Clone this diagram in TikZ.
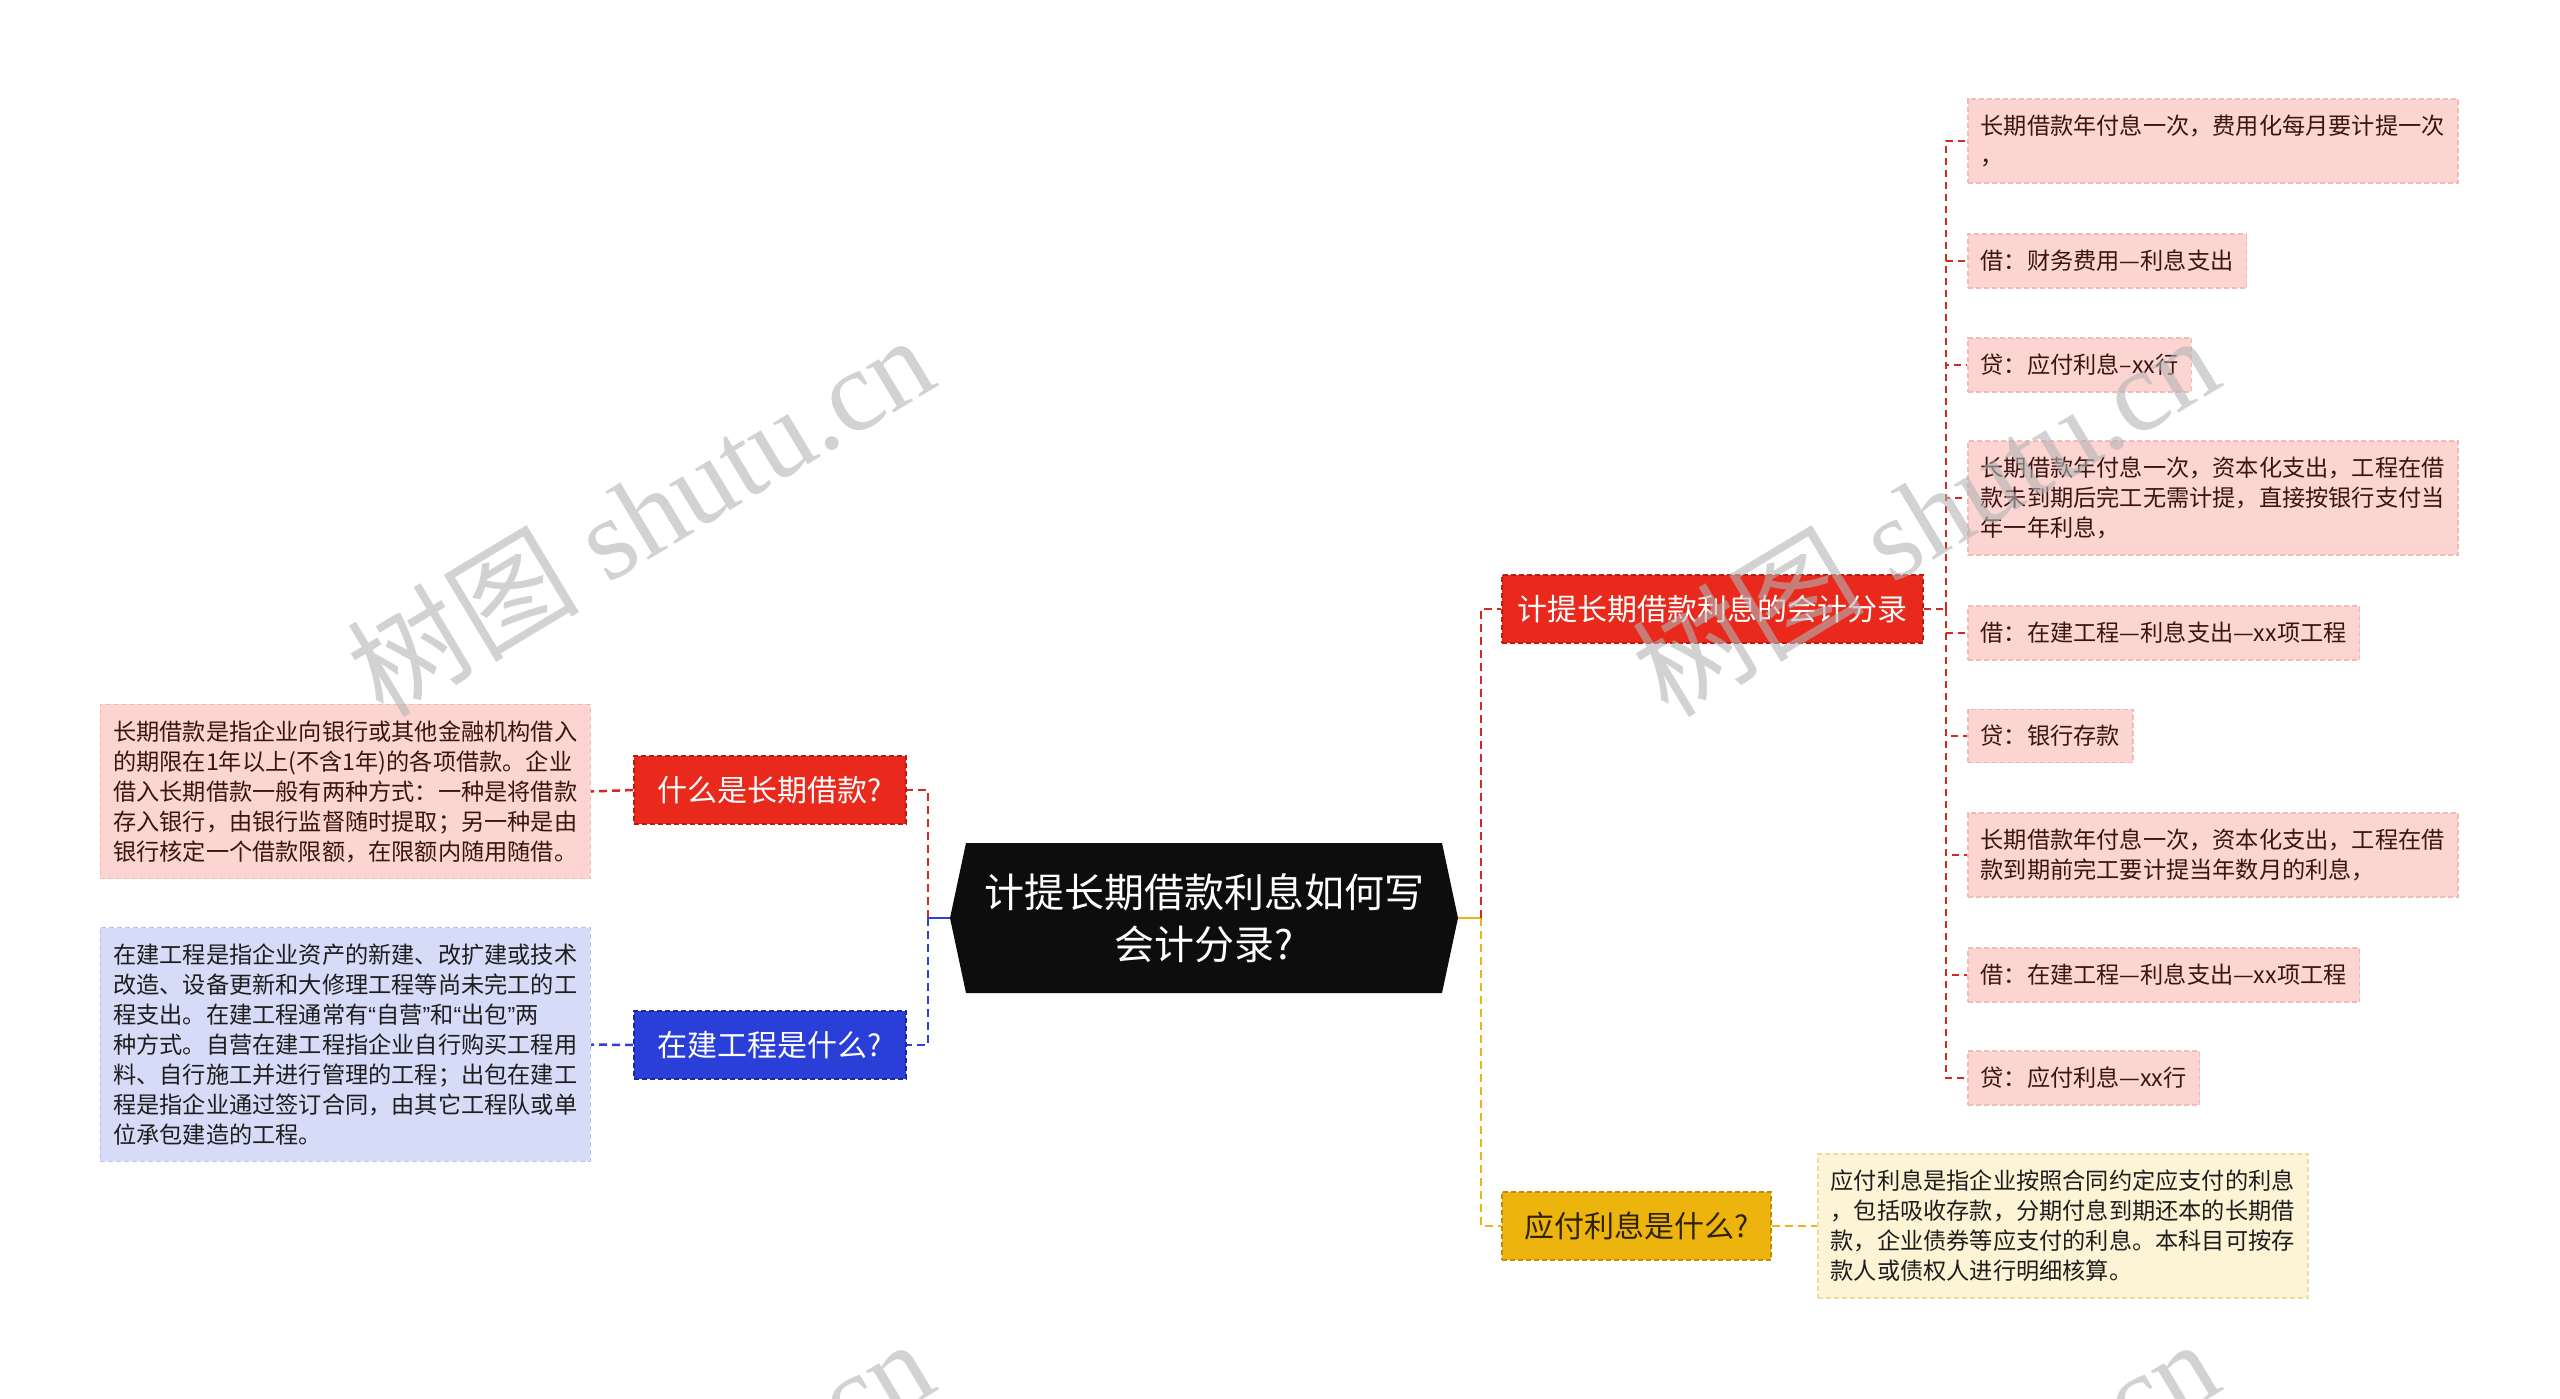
\documentclass[tikz,border=0pt]{standalone}
\usepackage{fontspec}
\setmainfont{Noto Sans CJK SC}
\newfontfamily\wmlatin{Liberation Serif}
\newfontfamily\wmcjk{Noto Sans CJK SC}
\newfontfamily\qf{Liberation Sans}
\definecolor{redF}{HTML}{E8291C}
\definecolor{redB}{HTML}{B81C12}
\definecolor{blueF}{HTML}{2A3FD8}
\definecolor{blueB}{HTML}{1A2A9E}
\definecolor{yelF}{HTML}{EDB40E}
\definecolor{yelB}{HTML}{C08E08}
\definecolor{pinkF}{HTML}{FCD5D2}
\definecolor{pinkB}{HTML}{F0BAB5}
\definecolor{lavF}{HTML}{D6DBF8}
\definecolor{lavB}{HTML}{B9C1EE}
\definecolor{creF}{HTML}{FDF3D5}
\definecolor{creB}{HTML}{EEDCA6}
\definecolor{pinkT}{HTML}{3A1512}
\definecolor{darkT}{HTML}{1E1E1E}
\definecolor{yelT}{HTML}{2E2300}
\definecolor{conR}{HTML}{D22A1F}
\definecolor{conB}{HTML}{2A40D8}
\definecolor{conY}{HTML}{EDB512}
\definecolor{wm}{HTML}{B4B4B4}
\newcommand\leaffont{\fontsize{23.2}{30}\selectfont}
\newcommand\lonefont{\fontsize{30}{36}\selectfont}
\newcommand\centfont{\fontsize{40}{52}\selectfont}
\newcommand\myopenq{{\qf “}}
\newcommand\myclosq{{\qf ”}}
\begin{document}
\begin{tikzpicture}[x=1pt,y=-1pt,
  leafbox/.style={dashed, dash pattern=on 5pt off 3pt, line width=1.5pt, inner xsep=13pt, inner ysep=16pt, align=left, font=\leaffont},
  leafpink/.style={leafbox, draw=pinkB, fill=pinkF, text=pinkT},
  leaflav/.style={leafbox, draw=lavB, fill=lavF, text=darkT},
  leafcre/.style={leafbox, draw=creB, fill=creF, text=darkT},
  lone/.style={dashed, dash pattern=on 5pt off 3pt, line width=1.8pt, minimum height=68pt, inner sep=0pt, align=center, font=\lonefont},
  lonered/.style={lone, draw=redB, fill=redF, text=white},
  loneblue/.style={lone, draw=blueB, fill=blueF, text=white},
  loneyel/.style={lone, draw=yelB, fill=yelF, text=yelT},
  conbase/.style={line width=2.5pt, dash pattern=on 8pt off 5pt},
  conred/.style={conbase, draw=conR},
  conblue/.style={conbase, draw=conB},
  conyel/.style={conbase, draw=conY},
  consub/.style={line width=2pt, dash pattern=on 7pt off 5pt, draw=conR},
  stub/.style={line width=2.5pt},
  wmark/.style={text=wm, text opacity=0.6, rotate=31, inner sep=0pt}
]
\fill[white] (0,0) rectangle (2560,1399);
\useasboundingbox (0,0) rectangle (2560,1399);

% central topic
\fill[black!95] (966,843) -- (1442,843) -- (1458,918) -- (1442,993) -- (966,993) -- (950,918) -- cycle;
\node[text=white, align=center, font=\centfont, inner sep=0pt] (c) at (1204,918) {计提长期借款利息如何写\\会计分录?};
\coordinate (cW) at (950,918);
\coordinate (cE) at (1458,918);
\coordinate (jL) at (928,918);
\coordinate (jR) at (1481,918);

% level one
\node[lonered, minimum width=272pt] (n1) at (770,790) {什么是长期借款?};
\node[loneblue, minimum width=272pt] (n2) at (770,1045) {在建工程是什么?};
\node[lonered, minimum width=421pt] (n3) at (1712.5,609) {计提长期借款利息的会计分录};
\node[loneyel, minimum width=269pt] (n4) at (1636.5,1226) {应付利息是什么?};

% left leaves
\node[leafpink, anchor=east] (l1) at (591,791.5) {长期借款是指企业向银行或其他金融机构借入\\的期限在1年以上(不含1年)的各项借款。企业\\借入长期借款一般有两种方式：一种是将借款\\存入银行，由银行监督随时提取；另一种是由\\银行核定一个借款限额，在限额内随用随借。};
\node[leaflav, anchor=east] (l2) at (591,1044.5) {在建工程是指企业资产的新建、改扩建或技术\\改造、设备更新和大修理工程等尚未完工的工\\程支出。在建工程通常有\myopenq 自营\myclosq 和\myopenq 出包\myclosq 两\\种方式。自营在建工程指企业自行购买工程用\\料、自行施工并进行管理的工程；出包在建工\\程是指企业通过签订合同，由其它工程队或单\\位承包建造的工程。};
\node[leafcre, anchor=west] (l4) at (1817,1226) {应付利息是指企业按照合同约定应支付的利息\\，包括吸收存款，分期付息到期还本的长期借\\款，企业债券等应支付的利息。本科目可按存\\款人或债权人进行明细核算。};

% right leaves
\node[leafpink, anchor=west] (r1) at (1967,141) {长期借款年付息一次，费用化每月要计提一次\\，};
\node[leafpink, anchor=west] (r2) at (1967,261) {借：财务费用—利息支出};
\node[leafpink, anchor=west] (r3) at (1967,365) {贷：应付利息–xx行};
\node[leafpink, anchor=west] (r4) at (1967,498) {长期借款年付息一次，资本化支出，工程在借\\款未到期后完工无需计提，直接按银行支付当\\年一年利息，};
\node[leafpink, anchor=west] (r5) at (1967,633) {借：在建工程—利息支出—xx项工程};
\node[leafpink, anchor=west] (r6) at (1967,736) {贷：银行存款};
\node[leafpink, anchor=west] (r7) at (1967,855) {长期借款年付息一次，资本化支出，工程在借\\款到期前完工要计提当年数月的利息，};
\node[leafpink, anchor=west] (r8) at (1967,975) {借：在建工程—利息支出—xx项工程};
\node[leafpink, anchor=west] (r9) at (1967,1078) {贷：应付利息—xx行};

% connectors
\draw[stub, conB] (cW) -- (jL);
\draw[conred] (jL) |- (n1.east);
\draw[conblue] (jL) |- (n2.east);
\draw[conred] (n1.west) -- (l1.east);
\draw[conblue] (n2.west) -- (l2.east);
\draw[stub, conY] (cE) -- (jR);
\draw[conred] (jR) |- (n3.west);
\draw[conyel] (jR) |- (n4.west);
\draw[conyel] (n4.east) -- (l4.west);
\coordinate (jS) at (1946,609);
\draw[consub] (n3.east) -- (jS);
\foreach \r in {r1,r2,r3,r4,r5,r6,r7,r8,r9}{
  \draw[consub] (jS) |- (\r.west);
}

% watermarks
\begin{scope}
\clip (0,0) rectangle (2560,1399);
\foreach \p in {(640,514),(1925,514),(640,1518),(1925,1518)}{
  \node[wmark] at \p {\fontsize{116}{116}\selectfont\wmcjk 树图\wmlatin\ shutu.cn};
}
\end{scope}
\end{tikzpicture}
\end{document}
